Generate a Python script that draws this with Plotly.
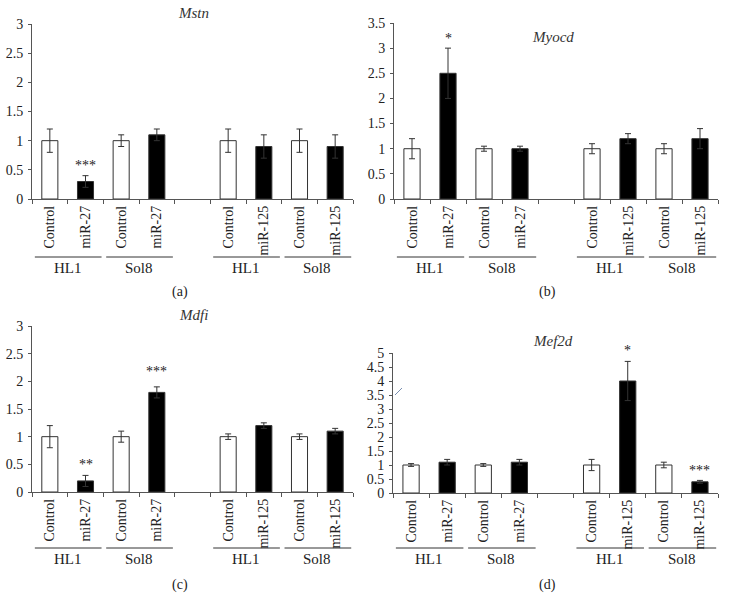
import plotly.graph_objects as go

W, H = 730, 598

categories = ["Control", "miR-27", "Control", "miR-27", "", "Control", "miR-125", "Control", "miR-125"]
bar_colors = ["white", "black", "white", "black", "white", "white", "black", "white", "black"]
groups = ["HL1", "Sol8", "HL1", "Sol8"]
group_spans = [(0, 1), (2, 3), (5, 6), (7, 8)]

titles = ["Mstn", "Myocd", "Mdfi", "Mef2d"]
panel_labels = ["(a)", "(b)", "(c)", "(d)"]

mstn_vals = [1.0, 0.3, 1.0, 1.1, None, 1.0, 0.9, 1.0, 0.9]
mstn_err = [0.2, 0.1, 0.1, 0.1, 0, 0.2, 0.2, 0.2, 0.2]
myocd_vals = [1.0, 2.5, 1.0, 1.0, None, 1.0, 1.2, 1.0, 1.2]
myocd_err = [0.2, 0.5, 0.05, 0.05, 0, 0.1, 0.1, 0.1, 0.2]
mdfi_vals = [1.0, 0.2, 1.0, 1.8, None, 1.0, 1.2, 1.0, 1.1]
mdfi_err = [0.2, 0.1, 0.1, 0.1, 0, 0.05, 0.05, 0.05, 0.05]
mef2d_vals = [1.0, 1.1, 1.0, 1.1, None, 1.0, 4.0, 1.0, 0.4]
mef2d_err = [0.05, 0.1, 0.05, 0.1, 0, 0.2, 0.7, 0.1, 0.05]

y_max = [3, 3.5, 3, 5]

# significance marks: (panel, category index, y value, text)
sig_marks = [
    (0, 1, 0.58, "***"),
    (1, 1, 3.2, "*"),
    (2, 1, 0.49, "**"),
    (2, 3, 2.17, "***"),
    (3, 6, 5.1, "*"),
    (3, 8, 0.82, "***"),
]

values = [mstn_vals, myocd_vals, mdfi_vals, mef2d_vals]
errors = [mstn_err, myocd_err, mdfi_err, mef2d_err]

# layout geometry in pixels (left, right, top, bottom of plot area)
boxes = [
    (32, 353, 24, 199),
    (394, 718, 23, 199),
    (32, 353, 326, 492),
    (393, 718, 353, 493),
]
group_line_y = [257, 257, 548, 548]
group_label_y = [268, 268, 559, 559]
panel_label_pos = [(180, 292), (547, 292), (180, 585), (547, 585)]
title_pos = [(193, 13), (553, 37), (193, 315), (553, 341)]

FONT = "Liberation Serif, Times New Roman, serif"
AXC = "#555555"

def px(x):
    return x / W

def py(y):
    return 1 - y / H

def ax_id(letter, k):
    return letter if k == 1 else f"{letter}{k}"

fig = go.Figure()
layout = dict(
    width=W, height=H,
    margin=dict(l=0, r=0, t=0, b=0, pad=0, autoexpand=False),
    paper_bgcolor="white", plot_bgcolor="white",
    showlegend=False, font=dict(family=FONT, size=14, color="#222"),
    bargap=0.55,
)
annotations = []
shapes = []
n = len(categories)
centers = list(range(n))
boundaries = [i - 0.5 for i in range(n + 1)]

for p in range(4):
    xa = ax_id("x", 2 * p + 1)
    xl = ax_id("x", 2 * p + 2)
    ya = ax_id("y", p + 1)
    l, r, t, b = boxes[p]
    xa_key = xa.replace("x", "xaxis")
    xl_key = xl.replace("x", "xaxis")
    ya_key = ya.replace("y", "yaxis")

    fig.add_trace(go.Bar(
        x=centers, y=values[p], xaxis=xa, yaxis=ya,
        marker=dict(color=bar_colors, line=dict(color="#333", width=1)),
        error_y=dict(type="data", array=errors[p], color="#333", thickness=1, width=3),
        hoverinfo="skip",
    ))
    fig.add_trace(go.Scatter(
        x=centers, y=[0] * n, xaxis=xl, yaxis=ya, mode="none", hoverinfo="skip",
    ))

    layout[xa_key] = dict(
        domain=[px(l), px(r)], anchor=ya, range=[-0.5, n - 0.5],
        tickmode="array", tickvals=boundaries, showticklabels=False,
        ticks="outside", ticklen=4, tickcolor=AXC, showline=True, linecolor=AXC,
        linewidth=1, showgrid=False, zeroline=False, automargin=False,
    )
    layout[xl_key] = dict(
        domain=[px(l), px(r)], anchor=ya, overlaying=xa, range=[-0.5, n - 0.5],
        tickmode="array", tickvals=centers, ticktext=categories, tickangle=-90,
        ticks="", showline=False, showgrid=False, zeroline=False, automargin=False,
        tickfont=dict(family=FONT, size=14, color="#222"), ticklabelstandoff=3,
    )
    layout[ya_key] = dict(
        domain=[py(b), py(t)], anchor=xa, range=[0, y_max[p]], dtick=0.5,
        ticks="outside", ticklen=3, tickcolor=AXC, showline=True, linecolor=AXC,
        linewidth=1, showgrid=False, zeroline=False, automargin=False,
        tickfont=dict(family=FONT, size=14, color="#222"), ticklabelstandoff=2,
    )

    for g, (s, e) in zip(groups, group_spans):
        shapes.append(dict(
            type="line", xref=xa, yref="paper", x0=s - 0.42, x1=e + 0.45,
            y0=py(group_line_y[p]), y1=py(group_line_y[p]),
            line=dict(color="#333", width=1),
        ))
        annotations.append(dict(
            text=g, xref=xa, yref="paper", x=(s + e) / 2, y=py(group_label_y[p]),
            showarrow=False, font=dict(family=FONT, size=15, color="#222"),
            xanchor="center", yanchor="middle",
        ))

    annotations.append(dict(
        text=f"<i>{titles[p]}</i>", xref="paper", yref="paper",
        x=px(title_pos[p][0]), y=py(title_pos[p][1]), showarrow=False,
        font=dict(family=FONT, size=15, color="#333"), xanchor="center", yanchor="middle",
    ))
    annotations.append(dict(
        text=panel_labels[p], xref="paper", yref="paper",
        x=px(panel_label_pos[p][0]), y=py(panel_label_pos[p][1]), showarrow=False,
        font=dict(family=FONT, size=14, color="#222"), xanchor="center", yanchor="middle",
    ))

for (p, ci, yv, txt) in sig_marks:
    annotations.append(dict(
        text=txt, xref=ax_id("x", 2 * p + 1), yref=ax_id("y", p + 1) + " domain",
        x=ci, y=yv / y_max[p],
        showarrow=False, font=dict(family=FONT, size=14, color="#222"),
        xanchor="center", yanchor="middle",
    ))

# axis break mark on the Mef2d panel
shapes.append(dict(
    type="line", xref="paper", yref="paper", x0=px(395), x1=px(402),
    y0=py(395), y1=py(388), line=dict(color="#7a8fb0", width=1),
))

layout["annotations"] = annotations
layout["shapes"] = shapes
fig.update_layout(**layout)
fig.write_html(
    "out.html",
    config={"displayModeBar": False, "staticPlot": True},
    post_script="document.body.style.margin='0';document.body.style.overflow='hidden';",
)
